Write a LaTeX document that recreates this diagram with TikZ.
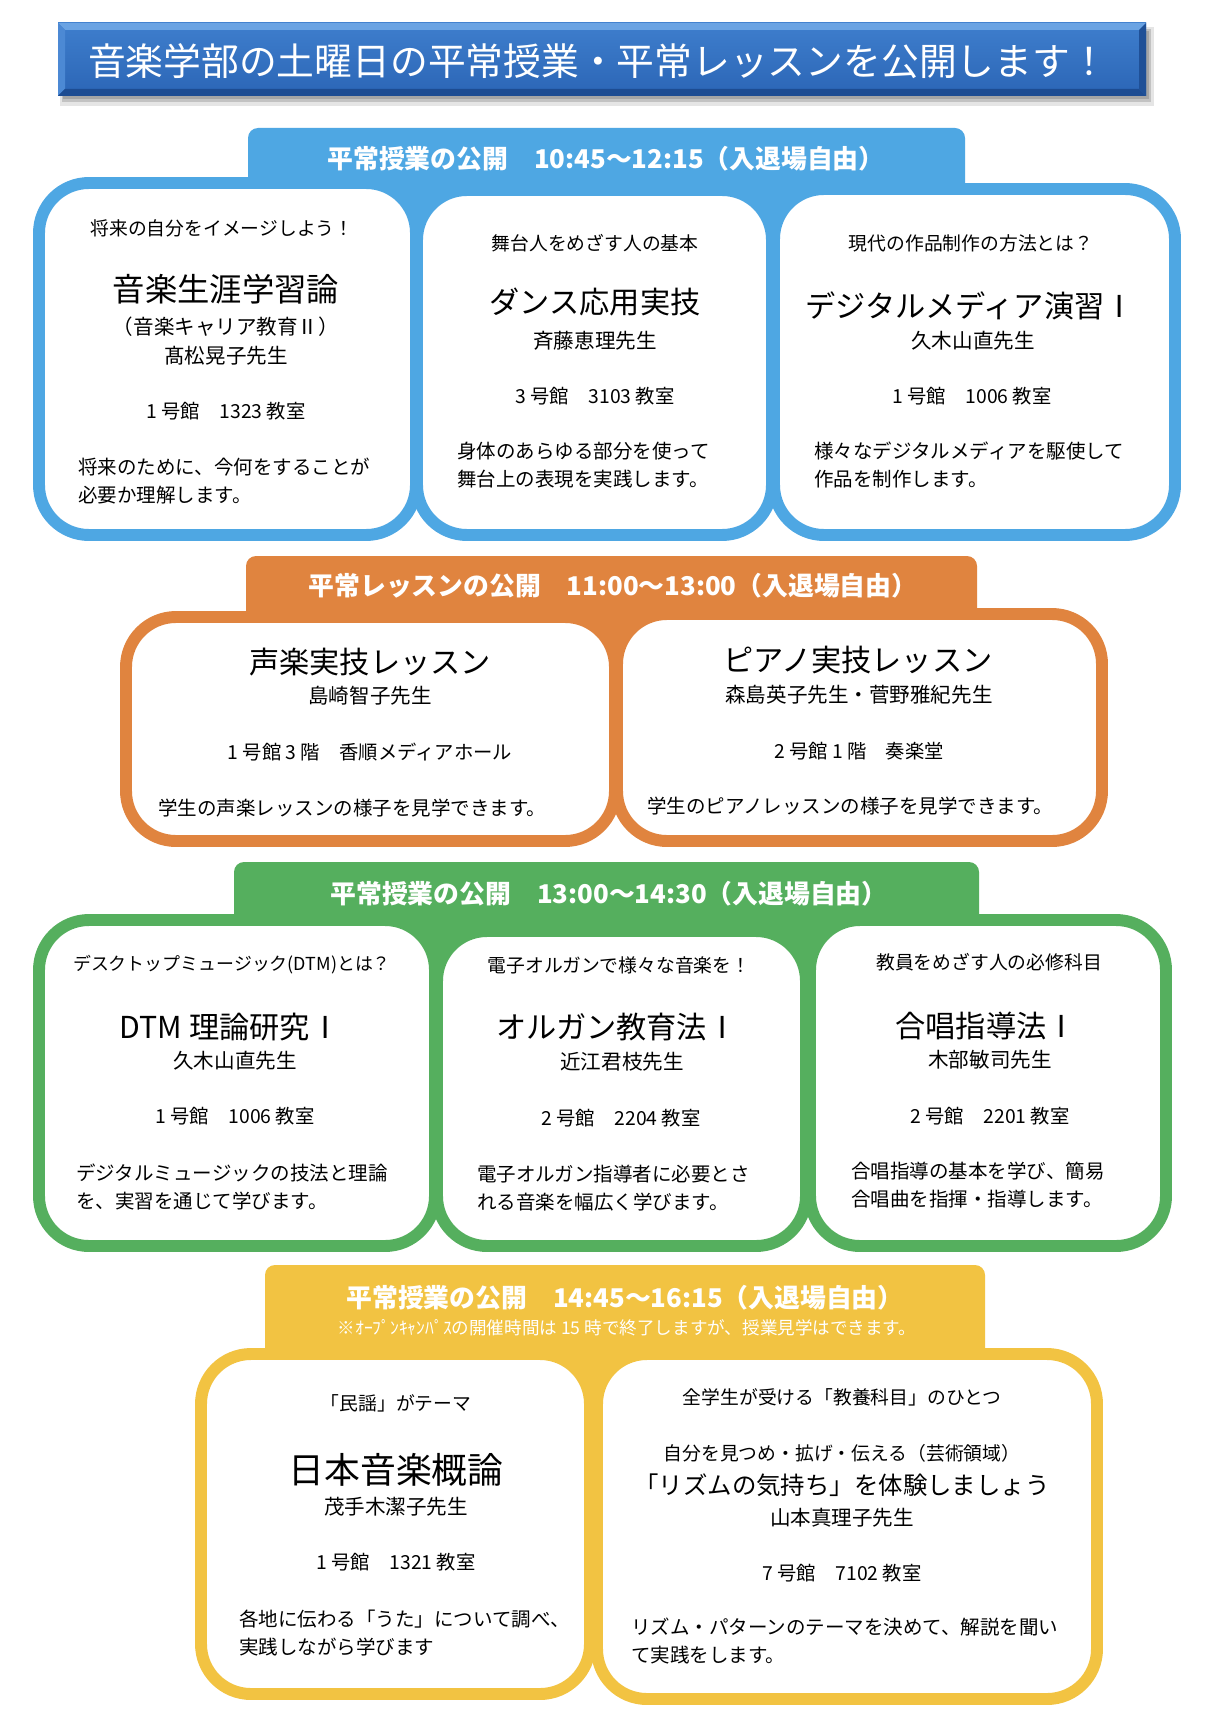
\documentclass[tikz,border=0pt]{standalone}
\usepackage{fontspec}
\setmainfont{Noto Sans CJK JP}
\usepackage[HTML]{xcolor}
\usepackage{tikz}
\usetikzlibrary{positioning}

\definecolor{bannertop}{HTML}{3E7ECD}
\definecolor{bannerbot}{HTML}{2B65B6}
\definecolor{bevellight}{HTML}{6AA3E3}
\definecolor{bevelside}{HTML}{4C89D4}
\definecolor{beveldark}{HTML}{1D4C92}
\definecolor{skyblue}{HTML}{4EA7E3}
\definecolor{lessonorange}{HTML}{E0843F}
\definecolor{classgreen}{HTML}{55AF5E}
\definecolor{sunyellow}{HTML}{F2C342}

\begin{document}
\begin{tikzpicture}[x=0.02cm, y=-0.02cm,
  card/.style={draw=#1, line width=6.8pt, fill=white, rounded corners=1cm},
  tabbox/.style={fill=#1, rounded corners=0.2cm},
  tabtext/.style={text=white, inner sep=0, font=\fontsize{14.7}{17}\selectfont\bfseries},
  catch/.style={inner sep=0, font=\fontsize{10.7}{13}\selectfont},
  course/.style={inner sep=0, font=\fontsize{17.2}{20}\selectfont},
  teacher/.style={inner sep=0, font=\fontsize{11.7}{14}\selectfont},
  room/.style={inner sep=0, font=\fontsize{11}{13}\selectfont},
  desc/.style={inner sep=0, anchor=west, align=left, font=\fontsize{11.1}{15.9}\selectfont}]

\useasboundingbox (0,0) rectangle (1215,1713);
\fill[white] (0,0) rectangle (1215,1713);

% Title banner with bevel and shadow
\fill[black, opacity=0.10] (60,27) rectangle (1154,106);
\fill[black, opacity=0.15] (62,29) rectangle (1151,102);
\fill[black, opacity=0.15] (63,31) rectangle (1149,99);
\shade[top color=bannertop, bottom color=bannerbot] (58,23) rectangle (1146,96);
\fill[bevellight] (58,23) -- (1146,23) -- (1139,30) -- (65,30) -- cycle;
\fill[bevelside] (58,23) -- (65,30) -- (65,89) -- (58,96) -- cycle;
\fill[beveldark] (58,96) -- (1146,96) -- (1139,89) -- (65,89) -- cycle;
\fill[beveldark!85!bannerbot] (1146,23) -- (1146,96) -- (1139,89) -- (1139,30) -- cycle;
\node[text=white, inner sep=0, font=\fontsize{21.5}{24}\selectfont] (title) at (598,61) {音楽学部の土曜日の平常授業・平常レッスンを公開します！};

% Blue section 10:45-12:15
\fill[tabbox=skyblue] (248,128) rectangle (965,260);
\draw[card=skyblue] (39,183) rectangle (416,535);
\draw[card=skyblue] (417,190) rectangle (772,535);
\draw[card=skyblue] (774,189) rectangle (1175,535);
\node[tabtext] (tabA) at (606,159) {平常授業の公開　10:45～12:15（入退場自由）};

\node[catch] (catchA1) at (222,228) {将来の自分をイメージしよう！};
\node[course, font=\fontsize{18.4}{21}\selectfont] (courseA1) at (226,289) {音楽生涯学習論};
\node[teacher] (noteA1) at (226,327) {（音楽キャリア教育Ⅱ）};
\node[teacher] (teachA1) at (226,356) {髙松晃子先生};
\node[room] (roomA1) at (226,411) {1 号館　1323 教室};
\node[desc] (descA1) at (78,481) {将来のために、今何をすることが\\必要か理解します。};

\node[catch] (catchA2) at (595,243) {舞台人をめざす人の基本};
\node[course] (courseA2) at (595,302) {ダンス応用実技};
\node[teacher] (teachA2) at (595,341) {斉藤恵理先生};
\node[room] (roomA2) at (595,396) {3 号館　3103 教室};
\node[desc] (descA2) at (457,465) {身体のあらゆる部分を使って\\舞台上の表現を実践します。};

\node[catch] (catchA3) at (971,243) {現代の作品制作の方法とは？};
\node[course] (courseA3) at (970,306) {デジタルメディア演習Ⅰ};
\node[teacher] (teachA3) at (973,341) {久木山直先生};
\node[room] (roomA3) at (972,396) {1 号館　1006 教室};
\node[desc] (descA3) at (814,465) {様々なデジタルメディアを駆使して\\作品を制作します。};

% Orange section 11:00-13:00
\fill[tabbox=lessonorange] (246,556) rectangle (977,680);
\draw[card=lessonorange] (126,617) rectangle (615,841);
\draw[card=lessonorange] (617,614) rectangle (1102,841);
\node[tabtext] (tabB) at (613,586) {平常レッスンの公開　11:00～13:00（入退場自由）};

\node[course] (courseB1) at (370,662) {声楽実技レッスン};
\node[teacher] (teachB1) at (370,696) {島崎智子先生};
\node[room] (roomB1) at (370,752) {1 号館 3 階　香順メディアホール};
\node[desc] (descB1) at (158,808) {学生の声楽レッスンの様子を見学できます。};

\node[course] (courseB2) at (858,660) {ピアノ実技レッスン};
\node[teacher] (teachB2) at (859,695) {森島英子先生・菅野雅紀先生};
\node[room] (roomB2) at (859,751) {2 号館 1 階　奏楽堂};
\node[desc] (descB2) at (647,806) {学生のピアノレッスンの様子を見学できます。};

% Green section 13:00-14:30
\fill[tabbox=classgreen] (234,862) rectangle (979,990);
\draw[card=classgreen] (39,920) rectangle (435,1246);
\draw[card=classgreen] (437,931) rectangle (806,1246);
\draw[card=classgreen] (810,920) rectangle (1166,1246);
\node[tabtext] (tabC) at (609,894) {平常授業の公開　13:00～14:30（入退場自由）};

\node[catch, font=\fontsize{10.2}{13}\selectfont] (catchC1) at (232,965) {デスクトップミュージック(DTM)とは？};
\node[course] (courseC1) at (230,1027) {DTM 理論研究Ⅰ};
\node[teacher] (teachC1) at (235,1061) {久木山直先生};
\node[room] (roomC1) at (235,1116) {1 号館　1006 教室};
\node[desc] (descC1) at (76,1187) {デジタルミュージックの技法と理論\\を、実習を通じて学びます。};

\node[catch] (catchC2) at (619,965) {電子オルガンで様々な音楽を！};
\node[course] (courseC2) at (617,1027) {オルガン教育法Ⅰ};
\node[teacher] (teachC2) at (622,1062) {近江君枝先生};
\node[room] (roomC2) at (621,1118) {2 号館　2204 教室};
\node[desc] (descC2) at (477,1188) {電子オルガン指導者に必要とさ\\れる音楽を幅広く学びます。};

\node[catch] (catchC3) at (989,962) {教員をめざす人の必修科目};
\node[course] (courseC3) at (986,1026) {合唱指導法Ⅰ};
\node[teacher] (teachC3) at (990,1060) {木部敏司先生};
\node[room] (roomC3) at (990,1116) {2 号館　2201 教室};
\node[desc] (descC3) at (851,1185) {合唱指導の基本を学び、簡易\\合唱曲を指揮・指導します。};

% Yellow section 14:45-16:15
\fill[tabbox=sunyellow] (265,1265) rectangle (985,1420);
\draw[card=sunyellow] (201,1354) rectangle (590,1694);
\draw[card=sunyellow] (597,1354) rectangle (1097,1699);
\node[tabtext] (tabD) at (625,1298) {平常授業の公開　14:45～16:15（入退場自由）};
\node[text=white, inner sep=0, font=\fontsize{10}{12}\selectfont] (tabDnote) at (627,1328) {※ｵｰﾌﾟﾝｷｬﾝﾊﾟｽの開催時間は 15 時で終了しますが、授業見学はできます。};

\node[catch] (catchD1) at (396,1403) {「民謡」がテーマ};
\node[course, font=\fontsize{20.4}{24}\selectfont] (courseD1) at (396,1470) {日本音楽概論};
\node[teacher] (teachD1) at (396,1507) {茂手木潔子先生};
\node[room] (roomD1) at (396,1562) {1 号館　1321 教室};
\node[desc] (descD1) at (239,1633) {各地に伝わる「うた」について調べ、\\実践しながら学びます};

\node[catch] (catchD2) at (842,1397) {全学生が受ける「教養科目」のひとつ};
\node[catch] (noteD2) at (842,1453) {自分を見つめ・拡げ・伝える（芸術領域）};
\node[course, font=\fontsize{13.9}{17}\selectfont] (courseD2) at (842,1485) {「リズムの気持ち」を体験しましょう};
\node[teacher] (teachD2) at (842,1518) {山本真理子先生};
\node[room] (roomD2) at (842,1573) {7 号館　7102 教室};
\node[desc] (descD2) at (631,1641) {リズム・パターンのテーマを決めて、解説を聞い\\て実践をします。};

\end{tikzpicture}
\end{document}
